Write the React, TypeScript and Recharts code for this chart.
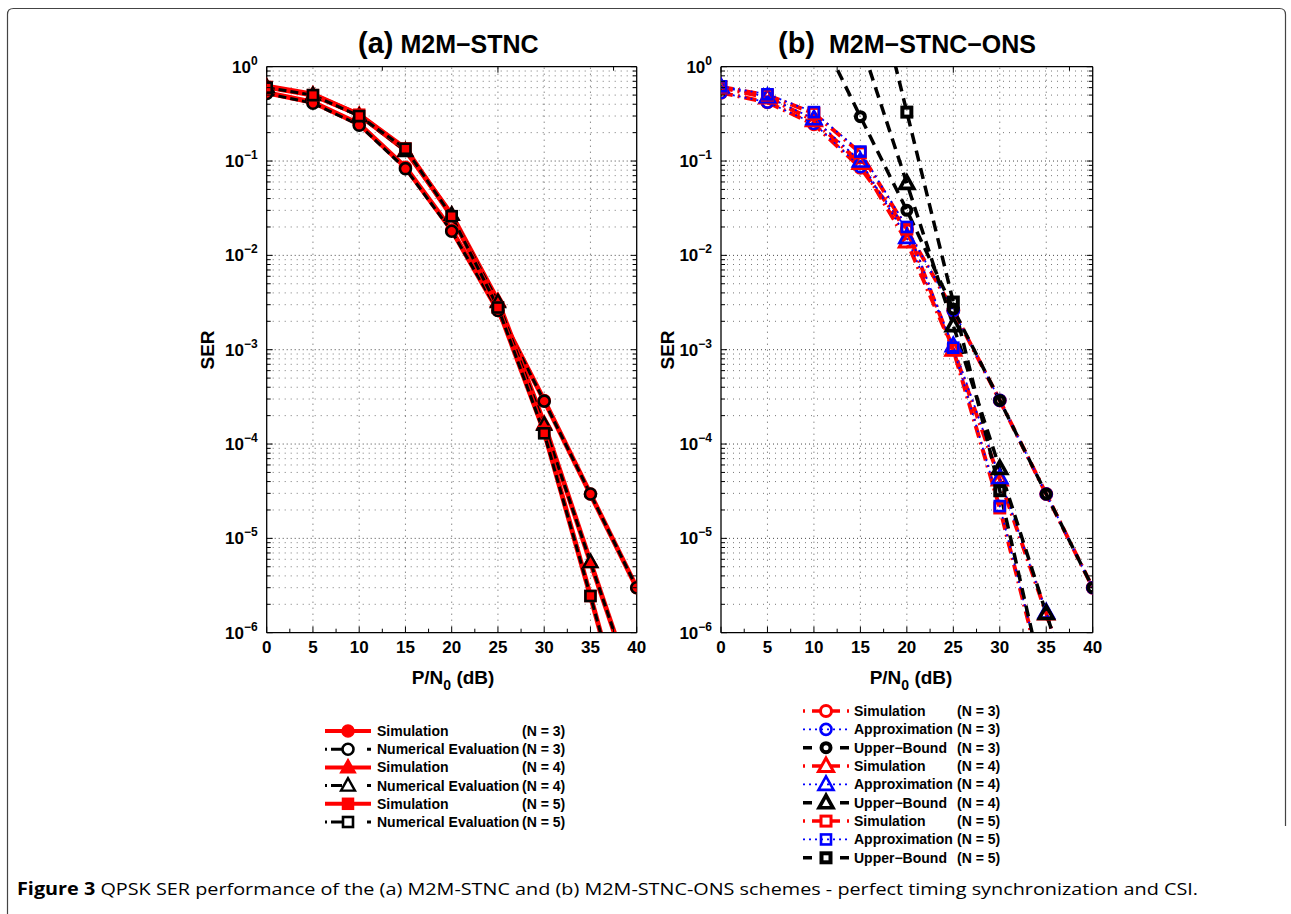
import React from 'react';
import { LineChart, Line, XAxis, YAxis, ReferenceLine } from 'recharts';

// ---------------- data ----------------
const snrDb = [0, 5, 10, 15, 20, 25, 30, 35, 40];

// Panel (a) M2M-STNC
const aSimN3 = [0.53, 0.42, 0.247, 0.086, 0.0186, 0.0026, 2.9e-4, 2.95e-5, 3.0e-6];
const aNumN3 = [0.52, 0.41, 0.24, 0.083, 0.018, 0.0026, 2.85e-4, 2.95e-5, 3.0e-6];
const aSimN4 = [0.62, 0.51, 0.31, 0.13, 0.027, 0.0033, 1.65e-4, 5.6e-6, 2e-7];
const aNumN4 = [0.61, 0.5, 0.3, 0.128, 0.027, 0.0032, 1.6e-4, 5.6e-6, 2e-7];
const aSimN5 = [0.61, 0.5, 0.31, 0.136, 0.026, 0.0028, 1.35e-4, 2.45e-6, 4e-8];
const aNumN5 = [0.6, 0.5, 0.3, 0.135, 0.026, 0.0028, 1.3e-4, 2.45e-6, 4e-8];

// Panel (b) M2M-STNC-ONS
const bSimN3 = [0.53, 0.42, 0.245, 0.085, 0.0185, 0.0026, 2.9e-4, 2.95e-5, 3e-6];
const bApxN3 = [0.53, 0.42, 0.25, 0.087, 0.019, 0.0026, 2.9e-4, 2.95e-5, 3e-6];
const bUbN3 = [null, null, 3.0, 0.295, 0.03, 2.7e-3, 2.9e-4, 2.95e-5, 3e-6];
const bSimN4 = [0.6, 0.47, 0.27, 0.095, 0.014, 1.0e-3, 4.2e-5, 1.6e-6, 5e-8];
const bApxN4 = [0.61, 0.48, 0.28, 0.1, 0.0155, 1.1e-3, 4.4e-5, 1.65e-6, 5e-8];
const bUbN4 = [null, null, 60, 1.85, 0.058, 1.8e-3, 5.5e-5, 1.6e-6, 5e-8];
const bSimN5 = [0.61, 0.5, 0.32, 0.122, 0.019, 1.0e-3, 2.1e-5, 2.3e-7, null];
const bApxN5 = [0.62, 0.51, 0.33, 0.126, 0.02, 1.05e-3, 2.2e-5, 2.4e-7, null];
const bUbN5 = [null, null, null, 33, 0.33, 3.2e-3, 3.2e-5, 2.2e-7, null];

// ticks / grid
const xTickValues = [0, 2.5, 5, 7.5, 10, 12.5, 15, 17.5, 20, 22.5, 25, 27.5, 30, 32.5, 35, 37.5, 40];
const xMajorTicks = [0, 5, 10, 15, 20, 25, 30, 35, 40];
const xGridValues = [5, 10, 15, 20, 25, 30, 35];
const yDecadeExps = [0, -1, -2, -3, -4, -5, -6];
const yMinorMultipliers = [2, 3, 4, 5, 6, 7, 8, 9];

const titleA = { tag: '(a)', name: 'M2M\u2212STNC' };
const titleB = { tag: '(b)', name: 'M2M\u2212STNC\u2212ONS' };
const yLabel = 'SER';
const captionBold = 'Figure 3';
const captionText = ' QPSK SER performance of the (a) M2M-STNC and (b) M2M-STNC-ONS schemes - perfect timing synchronization and CSI.';

// ---------------- derived ----------------
const yDecades = yDecadeExps.map((e) => Math.pow(10, e));
const yMinor: number[] = [];
yDecadeExps.slice(1).forEach((e) => yMinorMultipliers.forEach((m) => yMinor.push(m * Math.pow(10, e))));
const yTickValues = [...yDecades, ...yMinor].sort((p, q) => p - q);
const yGridMajor = yDecades.filter((v) => v > 1e-6 && v < 1);

const isDecade = (v: number) => Math.abs(Math.log10(v) - Math.round(Math.log10(v))) < 1e-9;

const dataA = snrDb.map((x, i) => ({
  x,
  sim3: aSimN3[i], num3: aNumN3[i],
  sim4: aSimN4[i], num4: aNumN4[i],
  sim5: aSimN5[i], num5: aNumN5[i],
}));
const dataB = snrDb.map((x, i) => ({
  x,
  sim3: bSimN3[i], apx3: bApxN3[i], ub3: bUbN3[i],
  sim4: bSimN4[i], apx4: bApxN4[i], ub4: bUbN4[i],
  sim5: bSimN5[i], apx5: bApxN5[i], ub5: bUbN5[i],
}));

const FONT = '"Liberation Sans", Arial, Helvetica, sans-serif';
const RED = '#ff0000';
const BLUE = '#0000ff';
const BLACK = '#000000';

type Shape = 'circle' | 'triangle' | 'square';
type Series = {
  key: string; color: string; width: number; dash?: string;
  shape: Shape; mSize: number; mFill: string; mStroke: string; mWidth: number;
  label: string; n: string; legendDash?: string; legendWidth: number;
};

const seriesA: Series[] = [
  { key: 'sim3', color: RED, width: 5, shape: 'circle', mSize: 12, mFill: RED, mStroke: RED, mWidth: 1.5, label: 'Simulation', n: '(N = 3)', legendWidth: 4 },
  { key: 'num3', color: BLACK, width: 3, dash: '8 4', shape: 'circle', mSize: 11, mFill: 'none', mStroke: BLACK, mWidth: 2.6, label: 'Numerical Evaluation', n: '(N = 3)', legendDash: '2 4 11 25 11 4 2', legendWidth: 3 },
  { key: 'sim4', color: RED, width: 5, shape: 'triangle', mSize: 13, mFill: RED, mStroke: RED, mWidth: 1.5, label: 'Simulation', n: '(N = 4)', legendWidth: 4 },
  { key: 'num4', color: BLACK, width: 3, dash: '8 4', shape: 'triangle', mSize: 12, mFill: 'none', mStroke: BLACK, mWidth: 2.4, label: 'Numerical Evaluation', n: '(N = 4)', legendDash: '2 4 11 25 11 4 2', legendWidth: 3 },
  { key: 'sim5', color: RED, width: 5, shape: 'square', mSize: 11, mFill: RED, mStroke: RED, mWidth: 1.5, label: 'Simulation', n: '(N = 5)', legendWidth: 4 },
  { key: 'num5', color: BLACK, width: 3, dash: '8 4', shape: 'square', mSize: 10, mFill: 'none', mStroke: BLACK, mWidth: 2.6, label: 'Numerical Evaluation', n: '(N = 5)', legendDash: '2 4 11 25 11 4 2', legendWidth: 3 },
];

const SIM_DASH = '12 5 2 5';
const APX_DASH = '2 4';
const UB_DASH = '11 7';
const seriesB: Series[] = [
  { key: 'sim3', color: RED, width: 4, dash: SIM_DASH, shape: 'circle', mSize: 11, mFill: 'none', mStroke: RED, mWidth: 3, label: 'Simulation', n: '(N = 3)', legendDash: '2 7 10 8 10 7 2', legendWidth: 3.5 },
  { key: 'apx3', color: BLUE, width: 1.8, dash: APX_DASH, shape: 'circle', mSize: 11, mFill: 'none', mStroke: BLUE, mWidth: 2.6, label: 'Approximation', n: '(N = 3)', legendDash: '2 4', legendWidth: 1.8 },
  { key: 'ub3', color: BLACK, width: 3.5, dash: UB_DASH, shape: 'circle', mSize: 9, mFill: 'none', mStroke: BLACK, mWidth: 4, label: 'Upper\u2212Bound', n: '(N = 3)', legendDash: '9 28 9', legendWidth: 3.5 },
  { key: 'sim4', color: RED, width: 4, dash: SIM_DASH, shape: 'triangle', mSize: 13, mFill: 'none', mStroke: RED, mWidth: 3, label: 'Simulation', n: '(N = 4)', legendDash: '2 7 10 8 10 7 2', legendWidth: 3.5 },
  { key: 'apx4', color: BLUE, width: 1.8, dash: APX_DASH, shape: 'triangle', mSize: 13, mFill: 'none', mStroke: BLUE, mWidth: 2.6, label: 'Approximation', n: '(N = 4)', legendDash: '2 4', legendWidth: 1.8 },
  { key: 'ub4', color: BLACK, width: 3.5, dash: UB_DASH, shape: 'triangle', mSize: 12, mFill: 'none', mStroke: BLACK, mWidth: 3.6, label: 'Upper\u2212Bound', n: '(N = 4)', legendDash: '9 28 9', legendWidth: 3.5 },
  { key: 'sim5', color: RED, width: 4, dash: SIM_DASH, shape: 'square', mSize: 10, mFill: 'none', mStroke: RED, mWidth: 3, label: 'Simulation', n: '(N = 5)', legendDash: '2 7 10 8 10 7 2', legendWidth: 3.5 },
  { key: 'apx5', color: BLUE, width: 1.8, dash: APX_DASH, shape: 'square', mSize: 10, mFill: 'none', mStroke: BLUE, mWidth: 2.6, label: 'Approximation', n: '(N = 5)', legendDash: '2 4', legendWidth: 1.8 },
  { key: 'ub5', color: BLACK, width: 3.5, dash: UB_DASH, shape: 'square', mSize: 9, mFill: 'none', mStroke: BLACK, mWidth: 4, label: 'Upper\u2212Bound', n: '(N = 5)', legendDash: '9 28 9', legendWidth: 3.5 },
];

// ---------------- shapes ----------------
function MarkerShape({ s, cx, cy }: { s: Series; cx: number; cy: number }) {
  const h = s.mSize / 2;
  const common = { fill: s.mFill, stroke: s.mStroke, strokeWidth: s.mWidth };
  if (s.shape === 'circle') return <circle cx={cx} cy={cy} r={h} {...common} />;
  if (s.shape === 'square') return <rect x={cx - h} y={cy - h} width={s.mSize} height={s.mSize} {...common} />;
  const pts = `${cx},${cy - s.mSize * 0.62} ${cx - s.mSize * 0.58},${cy + s.mSize * 0.42} ${cx + s.mSize * 0.58},${cy + s.mSize * 0.42}`;
  return <polygon points={pts} strokeLinejoin="miter" {...common} />;
}

const makeDot = (s: Series) => (props: any) => {
  const { cx, cy, index, value } = props;
  const k = `${s.key}-dot-${index}`;
  if (cx == null || cy == null || value == null || Number.isNaN(cy)) return <g key={k} />;
  return (
    <g key={k}>
      <MarkerShape s={s} cx={cx} cy={cy} />
    </g>
  );
};

// ---------------- ticks ----------------
const TICK_FONT = 17;
const bottomTick = (p: any) => {
  const v = p.payload.value;
  const major = xMajorTicks.includes(v);
  return (
    <g key={`bt-${v}`}>
      <line x1={p.x} x2={p.x} y1={p.y} y2={p.y - (major ? 6 : 4)} stroke="#000" strokeWidth={1} />
      {major && (
        <text x={p.x} y={p.y + 20} textAnchor="middle" fontFamily={FONT} fontWeight="bold" fontSize={TICK_FONT} fill="#000">
          {v}
        </text>
      )}
    </g>
  );
};
const topTick = (p: any) => {
  const v = p.payload.value;
  const major = xMajorTicks.includes(v);
  return <line key={`tt-${v}`} x1={p.x} x2={p.x} y1={p.y} y2={p.y + (major ? 6 : 4)} stroke="#000" strokeWidth={1} />;
};
const leftTick = (p: any) => {
  const v = p.payload.value;
  const major = isDecade(v);
  const e = Math.round(Math.log10(v));
  return (
    <g key={`lt-${v}`}>
      <line x1={p.x} x2={p.x + (major ? 6 : 4)} y1={p.y} y2={p.y} stroke="#000" strokeWidth={1} />
      {major && (
        <text x={p.x - 9} y={p.y + 6} textAnchor="end" fontFamily={FONT} fontWeight="bold" fontSize={TICK_FONT} fill="#000">
          10
          <tspan dy={-8} fontSize={12}>{e === 0 ? '0' : `\u2212${-e}`}</tspan>
        </text>
      )}
    </g>
  );
};
const rightTick = (p: any) => {
  const v = p.payload.value;
  const major = isDecade(v);
  return <line key={`rt-${v}`} x1={p.x} x2={p.x - (major ? 6 : 4)} y1={p.y} y2={p.y} stroke="#000" strokeWidth={1} />;
};

// ---------------- panel ----------------
function Panel({ data, series, left, margin }: { data: any[]; series: Series[]; left: number; margin: any }) {
  const axisLine = { stroke: '#000', strokeWidth: 1.3 };
  return (
    <div style={{ position: 'absolute', left, top: 0, width: 460, height: 700 }}>
      <LineChart width={460} height={700} data={data} margin={margin}>
        <XAxis xAxisId="b" dataKey="x" type="number" domain={[0, 40]} ticks={xTickValues} interval={0}
          allowDataOverflow tickLine={false} tickSize={0} tickMargin={0} height={40} axisLine={axisLine} tick={bottomTick} />
        <XAxis xAxisId="t" orientation="top" type="number" domain={[0, 40]} ticks={xTickValues} interval={0}
          allowDataOverflow tickLine={false} tickSize={0} tickMargin={0} height={6} axisLine={axisLine} tick={topTick} />
        <YAxis yAxisId="l" type="number" scale="log" domain={[1e-6, 1]} allowDataOverflow ticks={yTickValues} interval={0}
          tickLine={false} tickSize={0} tickMargin={0} width={60} axisLine={axisLine} tick={leftTick} />
        <YAxis yAxisId="r" orientation="right" type="number" scale="log" domain={[1e-6, 1]} allowDataOverflow ticks={yTickValues}
          interval={0} tickLine={false} tickSize={0} tickMargin={0} width={6} axisLine={axisLine} tick={rightTick} />
        {yMinor.map((v) => (
          <ReferenceLine key={`gm-${v}`} xAxisId="b" yAxisId="l" y={v} stroke="#555" strokeWidth={0.8} strokeDasharray="1 5" />
        ))}
        {yGridMajor.map((v) => (
          <ReferenceLine key={`gM-${v}`} xAxisId="b" yAxisId="l" y={v} stroke="#333" strokeWidth={0.9} strokeDasharray="1 3" />
        ))}
        {xGridValues.map((v) => (
          <ReferenceLine key={`gx-${v}`} xAxisId="b" yAxisId="l" x={v} stroke="#444" strokeWidth={0.9} strokeDasharray="1 5" />
        ))}
        {series.map((s) => (
          <Line key={s.key} xAxisId="b" yAxisId="l" dataKey={s.key} type="linear" stroke={s.color} strokeWidth={s.width}
            strokeDasharray={s.dash} dot={makeDot(s)} activeDot={false} isAnimationActive={false} connectNulls={false}
            strokeLinecap="butt" strokeLinejoin="round" />
        ))}
      </LineChart>
    </div>
  );
}

// ---------------- legend ----------------
function LegendBox({ series, x0, x1, textX, nX, y0, dy }: { series: Series[]; x0: number; x1: number; textX: number; nX: number; y0: number; dy: number }) {
  const mx = (x0 + x1) / 2;
  return (
    <g>
      {series.map((s, i) => {
        const y = y0 + i * dy;
        return (
          <g key={s.key}>
            <line x1={x0} x2={x1} y1={y} y2={y} stroke={s.color} strokeWidth={s.legendWidth} strokeDasharray={s.legendDash} />
            <MarkerShape s={s} cx={mx} cy={y} />
            <text x={textX} y={y + 5} fontFamily={FONT} fontWeight="bold" fontSize={14} fill="#000">{s.label}</text>
            <text x={nX} y={y + 5} fontFamily={FONT} fontWeight="bold" fontSize={14} fill="#000">{s.n}</text>
          </g>
        );
      })}
    </g>
  );
}

function Title({ t, x, gap }: { t: { tag: string; name: string }; x: number; gap: number }) {
  return (
    <text x={x} y={53} fontFamily={FONT} fontWeight="bold" fill="#000">
      <tspan fontSize={29}>{t.tag}</tspan>
      <tspan dx={gap} fontSize={25}>{t.name}</tspan>
    </text>
  );
}

function XLabel({ cx }: { cx: number }) {
  return (
    <text x={cx} y={684} textAnchor="middle" fontFamily={FONT} fontWeight="bold" fontSize={19} fill="#000">
      P/N<tspan dy={6} fontSize={14}>0</tspan><tspan dy={-6}> (dB)</tspan>
    </text>
  );
}

function YLabel({ cx }: { cx: number }) {
  return (
    <text x={cx} y={350} transform={`rotate(-90 ${cx} 350)`} textAnchor="middle" dominantBaseline="central"
      fontFamily={FONT} fontWeight="bold" fontSize={19} fill="#000">
      {yLabel}
    </text>
  );
}

export default function App() {
  return (
    <div style={{ position: 'absolute', left: 0, top: 0, width: 1291, height: 914, background: '#fff', overflow: 'hidden' }}>
      <svg width={1291} height={914} style={{ position: 'absolute', left: 0, top: 0 }}>
        <path d="M 7.5 914 L 7.5 14.5 Q 7.5 8.5 13.5 8.5 L 1279.5 8.5 Q 1285.5 8.5 1285.5 14.5 L 1285.5 826"
          fill="none" stroke="#444" strokeWidth={1.2} />
        <Title t={titleA} x={358} gap={7} />
        <Title t={titleB} x={778} gap={14} />
        <XLabel cx={453} />
        <XLabel cx={911} />
        <YLabel cx={207} />
        <YLabel cx={667} />
        <LegendBox series={seriesA} x0={325} x1={371} textX={377} nX={522} y0={731} dy={18.2} />
        <LegendBox series={seriesB} x0={803} x1={849} textX={854} nX={957} y0={711} dy={18.35} />
        <text x={17} y={895} fontFamily='"Open Sans", "Noto Sans", sans-serif' fontSize={17} fill="#000"
          textLength={1181} lengthAdjust="spacingAndGlyphs">
          <tspan fontWeight="bold">{captionBold}</tspan>
          <tspan>{captionText}</tspan>
        </text>
      </svg>
      <Panel data={dataA} series={seriesA} left={190}
        margin={{ top: 60.7, left: 16.7, right: 7.3, bottom: 27.3 }} />
      <Panel data={dataB} series={seriesB} left={645}
        margin={{ top: 60.7, left: 16, right: 6.3, bottom: 27.3 }} />
    </div>
  );
}
